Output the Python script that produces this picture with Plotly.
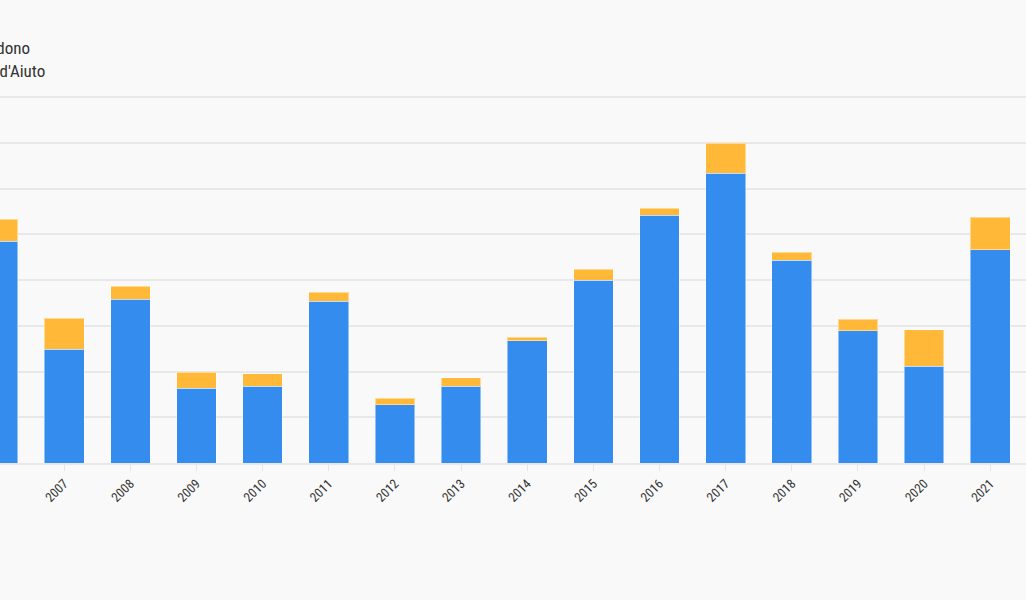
import plotly.graph_objects as go

years = [str(y) for y in range(2006, 2022)]
dono = [48.5, 24.9, 35.8, 16.4, 16.8, 35.4, 12.7, 16.8, 26.7, 40.0, 54.2, 63.4, 44.4, 28.9, 21.2, 46.6]
aiuto = [4.8, 6.8, 2.9, 3.5, 2.7, 2.0, 1.5, 1.8, 0.8, 2.4, 1.5, 6.5, 1.7, 2.6, 7.9, 7.2]
series_names = ["Offerte in dono", "Richieste d'Aiuto"]

W, H = 1026, 600
FONT = "Roboto Condensed, Roboto, sans-serif"
fig = go.Figure()
fig.add_bar(x=years, y=dono, name=series_names[0], legend="legend",
            marker=dict(color="#338CEE", line=dict(color="rgba(255,255,255,0.45)", width=1)))
fig.add_bar(x=years, y=aiuto, name=series_names[1], legend="legend2",
            marker=dict(color="#FFB838", line=dict(color="rgba(255,255,255,0.45)", width=1)))

plot_top, plot_bottom = 88, 463.3
ppu = 4.575
ymax = (plot_bottom - plot_top) / ppu
ph = plot_bottom - plot_top


def legend_at(right_px, top_px):
    return dict(orientation="v", xanchor="right", x=right_px / W, yanchor="top",
                y=1 + (plot_top - top_px) / ph,
                font=dict(family=FONT, size=17, color="#333333"), bgcolor="rgba(0,0,0,0)")


fig.update_layout(
    template="none",
    width=W, height=H,
    barmode="stack", bargap=0.4,
    paper_bgcolor="#F9F9F9", plot_bgcolor="#F9F9F9",
    font=dict(family=FONT, color="#333333"),
    margin=dict(l=0, r=0, t=plot_top, b=H - plot_bottom, pad=0, autoexpand=False),
    showlegend=True,
    legend=legend_at(36, 29.5),
    legend2=legend_at(51, 52.5),
    xaxis=dict(type="category", range=[0.0295, 15.54], tickangle=-45,
               tickfont=dict(family=FONT, size=13, color="#333333"),
               ticks="outside", ticklen=6, tickcolor="#E6E6E6", tickwidth=1,
               showline=True, linecolor="#E8E8E8", linewidth=2,
               showgrid=False, automargin=False),
    yaxis=dict(range=[0, ymax], dtick=10, showgrid=True, gridcolor="#E8E8E8", gridwidth=2,
               showticklabels=False, zeroline=False, showline=False, ticks="",
               automargin=False),
)

fig.write_html("out.html", config={"displayModeBar": False},
               post_script="document.body.style.margin='0';")
